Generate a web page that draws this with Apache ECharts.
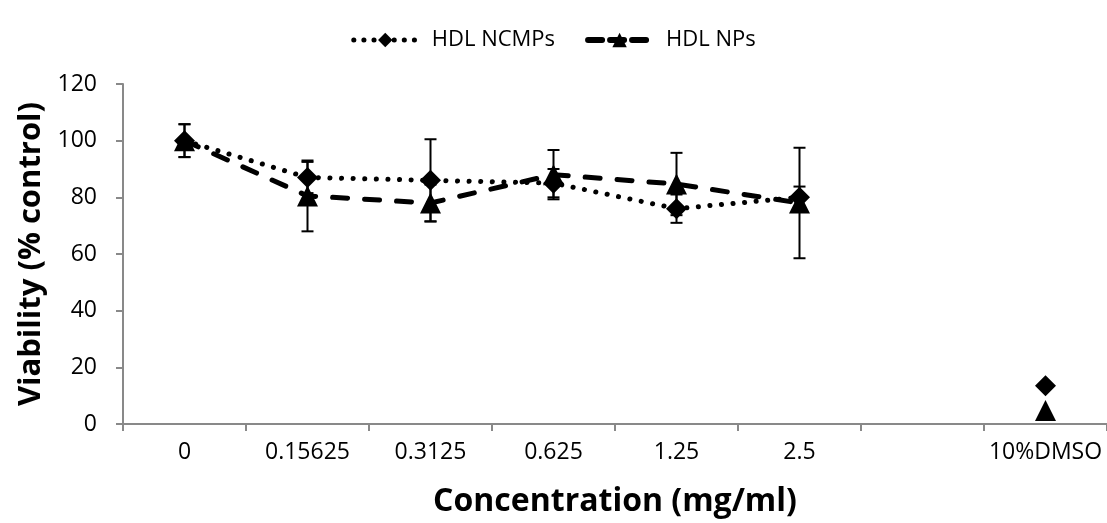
<!DOCTYPE html>
<html>
<head>
<meta charset="utf-8">
<script src="https://cdn.jsdelivr.net/npm/echarts@6/dist/echarts.min.js"></script>
<style>
  html, body { margin: 0; padding: 0; background: #ffffff; }
  #chart { width: 1107px; height: 523px; }
</style>
</head>
<body>
<div id="chart"></div>
<script>
const categories = ["0", "0.15625", "0.3125", "0.625", "1.25", "2.5", "", "10%DMSO"];

const ncmpValues = [100, 87, 86, 85, 76, 80, null, 13.5];
const ncmpErrors = [5.8, 5.5, 14.5, 5, 5, 3.8, null, null];

const npValues = [100, 80.5, 78, 88, 84.7, 78, null, 4.8];
const npErrors = [5.8, 12.5, 6.5, 8.7, 11, 19.5, null, null];

const axisGray = "#898989";
const fontFamily = "'Open Sans', 'Noto Sans', sans-serif";

const chart = echarts.init(document.getElementById("chart"));

const errorData = (values, errors) =>
  values
    .map((v, i) => (v != null && errors[i] != null ? [i, v - errors[i], v + errors[i]] : null))
    .filter((d) => d !== null);

const renderError = (params, api) => {
  const x = api.value(0);
  const low = api.coord([x, api.value(1)]);
  const high = api.coord([x, api.value(2)]);
  const half = 6;
  const style = { stroke: "#000000", lineWidth: 2, fill: null };
  return {
    type: "group",
    children: [
      { type: "line", shape: { x1: high[0], y1: high[1], x2: low[0], y2: low[1] }, style },
      { type: "line", shape: { x1: high[0] - half, y1: high[1], x2: high[0] + half, y2: high[1] }, style },
      { type: "line", shape: { x1: low[0] - half, y1: low[1], x2: low[0] + half, y2: low[1] }, style },
    ],
  };
};

const options = {
  animation: false,
  textStyle: { fontFamily },
  legend: {
    top: 24,
    left: "center",
    itemWidth: 63,
    itemHeight: 18,
    itemGap: 30,
    textStyle: { fontSize: 22, color: "#000000", fontFamily, padding: [0, 0, 0, 10] },
    data: [
      { name: "HDL NCMPs", lineStyle: { width: 5, type: [0.1, 10], cap: "round" } },
      { name: "HDL NPs", lineStyle: { width: 6, type: [14, 8], cap: "round" } },
    ],
  },
  grid: {
    left: 123,
    right: 0,
    top: 84,
    bottom: 99,
  },
  xAxis: {
    type: "category",
    data: categories,
    boundaryGap: true,
    name: "Concentration (mg/ml)",
    nameLocation: "middle",
    nameGap: 62,
    nameTextStyle: { fontSize: 32, fontWeight: "bold", color: "#000000", fontFamily },
    axisLine: { lineStyle: { color: axisGray, width: 2 } },
    axisTick: { show: true, length: 7, lineStyle: { color: axisGray, width: 2 } },
    axisLabel: { color: "#000000", fontSize: 23, margin: 17, interval: 0, fontFamily },
  },
  yAxis: {
    type: "value",
    min: 0,
    max: 120,
    interval: 20,
    name: "Viability (% control)",
    nameLocation: "middle",
    nameGap: 76,
    nameTextStyle: { fontSize: 31, fontWeight: "bold", color: "#000000", fontFamily },
    splitLine: { show: false },
    axisLine: { show: true, lineStyle: { color: axisGray, width: 2 } },
    axisTick: { show: true, length: 7, lineStyle: { color: axisGray, width: 2 } },
    axisLabel: { color: "#000000", fontSize: 23, margin: 26, fontFamily },
  },
  series: [
    {
      name: "HDL NCMPs",
      type: "line",
      data: ncmpValues,
      symbol: "diamond",
      symbolSize: 21,
      showAllSymbol: true,
      connectNulls: false,
      itemStyle: { color: "#000000" },
      lineStyle: { color: "#000000", width: 5, type: [0.1, 11.5], cap: "round" },
      z: 5,
    },
    {
      name: "HDL NPs",
      type: "line",
      data: npValues,
      symbol: "triangle",
      symbolSize: 21,
      showAllSymbol: true,
      connectNulls: false,
      itemStyle: { color: "#000000" },
      lineStyle: { color: "#000000", width: 5, type: [15, 17], cap: "round" },
      z: 4,
    },
    {
      name: "ncmp-err",
      type: "custom",
      renderItem: renderError,
      data: errorData(ncmpValues, ncmpErrors),
      silent: true,
      z: 3,
    },
    {
      name: "np-err",
      type: "custom",
      renderItem: renderError,
      data: errorData(npValues, npErrors),
      silent: true,
      z: 3,
    },
  ],
};

chart.setOption(options);
</script>
</body>
</html>
